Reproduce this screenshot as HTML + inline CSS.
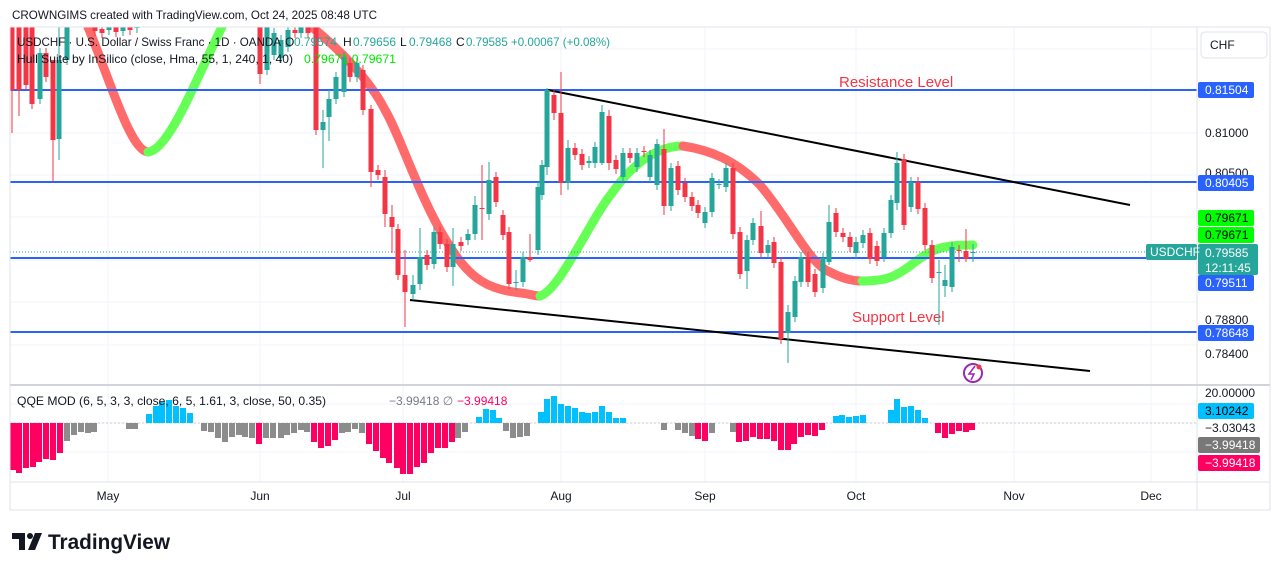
<!DOCTYPE html>
<html><head><meta charset="utf-8"><style>
html,body{margin:0;padding:0;background:#fff;width:1281px;height:571px;overflow:hidden}
svg text{font-family:"Liberation Sans",sans-serif}
</style></head><body>
<svg id="s" width="1281" height="571" xmlns="http://www.w3.org/2000/svg">
<rect width="1281" height="571" fill="#fff"/>
<g id="grid" stroke="#f0f3fa" stroke-width="1"></g>
<g id="hull" fill="none" stroke-width="9" stroke-linecap="round" stroke-linejoin="round"></g>
<g id="lines"></g>
<g id="candles"></g>
<g id="qqe"></g>
<g id="frame"></g>
<g id="labels"></g>
</svg>
<script>
const NS="http://www.w3.org/2000/svg";
function el(p,t,a,txt){const e=document.createElementNS(NS,t);for(const k in a)e.setAttribute(k,a[k]);if(txt!==undefined)e.textContent=txt;document.getElementById(p).appendChild(e);return e;}
[49,90,133,175,217,260,302,345].forEach(y=>el('grid','line',{x1:10,x2:1197,y1:y,y2:y}));
[108,260,403,561,705,856,1014,1151].forEach(x=>{el('grid','line',{x1:x,x2:x,y1:27,y2:482});});
[404,423,452].forEach(y=>el('grid','line',{x1:10,x2:1197,y1:y,y2:y}));
el('hull','path',{d:"M88,27 C110,80 130,150 148,152",stroke:"#ff6b6b"});
el('hull','path',{d:"M148,152 C170,150 200,70 222,27",stroke:"#66ff55"});
el('hull','path',{d:"M312,27 C340,50 370,80 385,110 C400,135 420,200 449,245 C470,280 490,290 521,293 C530,294 535,296 540,296",stroke:"#ff6b6b"});
el('hull','path',{d:"M540,296 C560,290 590,220 612,193 C635,160 660,146 683,146",stroke:"#66ff55"});
el('hull','path',{d:"M683,146 C710,150 735,160 760,185 C790,220 810,265 830,272 C845,280 855,281 862,281",stroke:"#ff6b6b"});
el('hull','path',{d:"M862,281 C885,281 895,278 915,262 C935,247 945,245 973,245",stroke:"#66ff55"});
[90,182,258,332].forEach(y=>el('lines','line',{x1:10,x2:1197,y1:y,y2:y,stroke:"#2962ff","stroke-width":2}));
el('lines','line',{x1:10,x2:1145,y1:252,y2:252,stroke:"#26a69a","stroke-width":1,"stroke-dasharray":"1,2"});
el('lines','line',{x1:548,y1:90,x2:1130,y2:205,stroke:"#000","stroke-width":2});
el('lines','line',{x1:410,y1:300,x2:1090,y2:371,stroke:"#000","stroke-width":2});
el('lines','text',{x:839,y:87,fill:"#f23645","font-size":15},"Resistance Level");
el('lines','text',{x:852,y:322,fill:"#f23645","font-size":15},"Support Level");
el('lines','circle',{cx:973,cy:373,r:9,fill:"none",stroke:"#9c27b0","stroke-width":2});
el('lines','path',{d:"M975,366 L969,374 L974,374 L971,380",fill:"none",stroke:"#9c27b0","stroke-width":1.5});
el('lines','circle',{cx:979,cy:367,r:2.5,fill:"#f23645"});
const C=[[12,27,90,27,133],[19,27,90,27,116],[26,27,85],[32,27,104],[40,99,53],[46,53,77],[53,60,140,60,182],[59,139,60,27,160],[67,60,27],
[95,27,31],[102,29,33],[109,30,27],[116,27,32],[123,31,27],[130,27,30],[137,28,27],
[260,27,74,27,84],[267,70,27],[274,55,33],[281,58,40],[288,47,30],[295,30,33],[301,33,27],[308,27,33],
[316,27,130],[323,130,122,110,168],[329,117,99,90,141],[336,99,77],[344,92,57],[350,63,77],[357,77,63],[363,70,110],[371,109,172,105,187],[378,170,175],[385,177,214,170,227],[392,217,227,205,253],[398,229,275],[405,275,292,250,327],[413,294,285,275,300],[420,284,257,228,290],[427,255,265],[434,264,232],[440,232,244],[447,244,267],[453,267,244,228,286],[461,242,246],[468,240,234],[475,234,205,196,240],[482,208,209,165,240],[489,214,180,162,220],[496,177,202],[503,215,235],[509,232,284],[516,282,282,270,290],[523,282,257],[530,257,260,234,262],[538,250,187],
[542,195,165,160,200],[547,167,90,88,175],[554,95,113,90,120],[561,113,183,72,195],[568,183,148,140,190],[575,148,155],[582,154,165],[589,163,161],[595,163,147],[602,163,112,105,165],[609,116,163,110,170],[616,160,169],[623,177,153],[630,153,158],[637,167,153],[644,151,152],[650,177,155],[657,185,144],[664,149,206,129,215],[671,206,168],[678,166,190],[685,183,197],[692,197,206],[698,205,213],[705,223,212],[712,212,178],[719,184,184],[726,187,168],[733,168,234],[740,232,274],[747,271,240,235,289],[753,240,223],[761,226,253,211,258],[768,253,245],[774,242,263],[781,262,339],[788,333,312,305,363],[795,317,281],[801,282,257],[808,257,282],[815,274,292],[823,288,258],[829,262,222,205,265],[836,213,232],[843,233,237],[850,237,247],[856,253,242],[863,243,235],[870,233,259],[877,246,261],[884,257,233],[891,233,200],[897,203,163,152,210],[904,159,225],[911,207,182],[918,182,209],[925,208,245],[932,245,278],[939,273,272,260,325],[945,286,280,265,297],[952,287,247],[959,250,251,245,262],[966,251,259,229,262],[973,252,252,244,262]];
C.forEach(c=>{const[x,o,cl]=c;const up=cl<=o;const col=up?"#26a69a":"#f23645";const top=Math.min(o,cl),bot=Math.max(o,cl);
const hi=c[3]!==undefined?c[3]:Math.max(27,top-5),lo=c[4]!==undefined?c[4]:bot+5;
el('candles','line',{x1:x,x2:x,y1:Math.max(27,hi),y2:lo,stroke:col,"stroke-width":1});
el('candles','rect',{x:x-2.5,y:Math.max(27,top),width:5,height:Math.max(1,bot-Math.max(27,top)),fill:col});});
el('qqe','line',{x1:10,x2:1197,y1:423,y2:423,stroke:"#ccc","stroke-dasharray":"2,2"});
const Q=[[13,470,'p'],[19,473,'p'],[26,468,'p'],[33,467,'p'],[39,462,'p'],[46,459,'p'],[53,460,'p'],[60,453,'p'],[67,441,'g'],[74,435,'g'],[81,432,'g'],[88,433,'g'],[94,432,'g'],
[129,429,'g'],[135,429,'g'],[149,414,'b'],[156,406,'b'],[162,402,'b'],[169,400,'b'],[176,406,'b'],[183,408,'b'],[190,413,'b'],
[204,431,'g'],[211,432,'g'],[218,438,'g'],[225,442,'g'],[232,437,'g'],[239,435,'g'],[245,437,'g'],[252,438,'g'],[259,444,'p'],[266,438,'g'],[273,438,'g'],[281,438,'g'],[287,435,'g'],[294,433,'g'],[301,430,'g'],[307,432,'g'],
[314,442,'p'],[321,448,'p'],[328,446,'p'],[335,440,'p'],[342,433,'g'],[348,432,'g'],[355,429,'g'],[362,433,'g'],
[369,444,'p'],[376,451,'p'],[383,458,'p'],[389,463,'p'],[397,468,'p'],[403,474,'p'],[410,474,'p'],[417,467,'p'],[424,463,'p'],[431,453,'p'],[438,448,'p'],[445,448,'p'],[452,442,'p'],[458,438,'g'],[465,432,'g'],
[479,417,'b'],[486,409,'b'],[493,410,'b'],[499,418,'b'],
[506,431,'g'],[513,438,'g'],[520,437,'g'],[527,436,'g'],
[541,412,'b'],[547,399,'b'],[554,396,'b'],[561,404,'b'],[568,406,'b'],[575,408,'b'],[582,412,'b'],[588,413,'b'],[595,412,'b'],[602,406,'b'],[609,412,'b'],[616,418,'b'],[623,418,'b'],
[664,430,'g'],[678,430,'g'],[685,433,'g'],[692,436,'g'],[698,439,'p'],[705,441,'p'],[712,433,'g'],
[733,432,'g'],[739,442,'p'],[746,441,'p'],[753,437,'p'],[760,439,'p'],[767,439,'p'],[774,441,'p'],[781,450,'p'],[788,450,'p'],[794,444,'p'],[801,437,'p'],[808,435,'p'],[815,436,'p'],[822,430,'p'],
[836,416,'b'],[842,415,'b'],[849,417,'b'],[856,416,'b'],[863,415,'b'],
[891,410,'b'],[897,399,'b'],[904,407,'b'],[911,406,'b'],[918,410,'b'],[925,418,'b'],
[938,433,'p'],[945,438,'p'],[952,434,'p'],[959,431,'p'],[966,432,'p'],[972,430,'p']];
const QC={p:"#ff0062",g:"#8c8c8c",b:"#00c0ff"};
Q.forEach(([x,y,c])=>{const t=Math.min(y,423),h=Math.abs(y-423);el('qqe','rect',{x:x-3,y:t,width:6,height:Math.max(1,h),fill:QC[c]});});
el('frame','rect',{x:0,y:0,width:1281,height:27,fill:"#fff"});
el('frame','line',{x1:10,x2:1270,y1:27,y2:27,stroke:"#e0e3eb"});
el('frame','line',{x1:10,x2:10,y1:27,y2:510,stroke:"#e0e3eb"});
el('frame','line',{x1:1270,x2:1270,y1:27,y2:510,stroke:"#e0e3eb"});
el('frame','line',{x1:1197,x2:1197,y1:27,y2:510,stroke:"#e0e3eb"});
el('frame','line',{x1:10,x2:1270,y1:385,y2:385,stroke:"#d1d4dc","stroke-width":2});
el('frame','line',{x1:10,x2:1270,y1:482,y2:482,stroke:"#e0e3eb"});
el('frame','line',{x1:10,x2:1270,y1:510,y2:510,stroke:"#e0e3eb"});
el('frame','rect',{x:1198,y:28,width:71,height:356,fill:"#fff"});
el('frame','rect',{x:1198,y:386,width:71,height:95,fill:"#fff"});
const L=(x,y,t,f,s,w,tl)=>{const a={x,y,fill:f||"#131722","font-size":s||12,"font-weight":w||"normal"};if(tl){a.textLength=tl;a.lengthAdjust="spacingAndGlyphs";}return el('labels','text',a,t);};
L(12,19,"CROWNGIMS created with TradingView.com, Oct 24, 2025 08:48 UTC","#131722",12,"normal",365);
L(17,46,"USDCHF · U.S. Dollar / Swiss Franc · 1D · OANDA","#131722",12,"normal",264);L(285,46,"O","#131722",12);
L(294,46,"0.79574","#26a69a",12,"normal",43);L(343,46,"H","#131722",12);L(353,46,"0.79656","#26a69a",12,"normal",43);L(400,46,"L","#131722",12);L(409,46,"0.79468","#26a69a",12,"normal",43);L(456,46,"C","#131722",12);L(466,46,"0.79585  +0.00067 (+0.08%)","#26a69a",12,"normal",144);
L(17,63,"Hull Suite by InSilico (close, Hma, 55, 1, 240, 1, 40)","#131722",12,"normal",276);L(304,63,"0.79671  0.79671","#00e600",12,"normal",92);
L(17,405,"QQE MOD (6, 5, 3, 3, close, 6, 5, 1.61, 3, close, 50, 0.35)","#131722",12,"normal",309);
L(389,405,"−3.99418  ∅","#787b86",12);L(457,405,"−3.99418","#ff0062",12);
el('labels','rect',{x:1201,y:32,width:66,height:26,rx:4,fill:"#fff",stroke:"#e0e3eb"});
L(1210,49,"CHF");
const B=(y,t,bg,fg,w)=>{el('labels','rect',{x:1198,y:y-8,width:w||56,height:16,rx:2,fill:bg});L(1205,y+4,t,fg);};
L(1205,137,"0.81000");L(1205,177,"0.80500");
B(90,"0.81504","#2962ff","#fff");B(183,"0.80405","#2962ff","#fff");
B(218,"0.79671","#00ff00","#000");B(235,"0.79671","#00ff00","#000");
el('labels','rect',{x:1198,y:244,width:60,height:31,rx:2,fill:"#26a69a"});L(1205,257,"0.79585","#fff");L(1205,272,"12:11:45","#fff");
el('labels','rect',{x:1146,y:244,width:51,height:16,rx:2,fill:"#26a69a"});L(1150,256,"USDCHF","#fff");
B(283,"0.79511","#2962ff","#fff");
L(1205,324,"0.78800");B(333,"0.78648","#2962ff","#fff");L(1205,358,"0.78400");
L(1205,397,"20.00000");B(411,"3.10242","#00c0ff","#000");L(1205,432,"−3.03043");
B(445,"−3.99418","#787878","#fff",62);B(463,"−3.99418","#ff0062","#fff",62);
[[108,"May"],[260,"Jun"],[403,"Jul"],[561,"Aug"],[705,"Sep"],[856,"Oct"],[1014,"Nov"],[1151,"Dec"]].forEach(([x,t])=>el('labels','text',{x,y:500,"text-anchor":"middle",fill:"#131722","font-size":12},t));
el('labels','path',{d:"M12,533 H25 V550 H19 V539 H12 Z",fill:"#131722"});
el('labels','circle',{cx:30,cy:536,r:3,fill:"#131722"});
el('labels','path',{d:"M35,533 H42 L35,550 H28 Z",fill:"#131722"});
L(48,549,"TradingView","#131722",21,"bold",122);
</script>
</body></html>
